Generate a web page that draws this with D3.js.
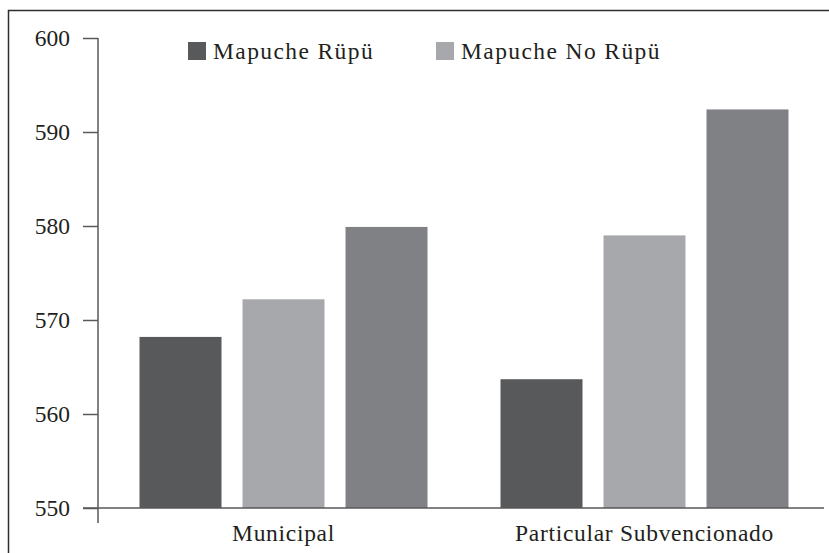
<!DOCTYPE html>
<html>
<head>
<meta charset="utf-8">
<script src="https://cdn.jsdelivr.net/npm/d3@7"></script>
<style>
  body { margin: 0; background: #fff; }
</style>
</head>
<body>
<div id="chart"></div>
<script>
const categories = ["Municipal", "Particular Subvencionado"];
const seriesNames = ["Mapuche Rüpü", "Mapuche No Rüpü", "No Mapuche"];
const mapucheRupu = [568.2, 563.7];
const mapucheNoRupu = [572.2, 579.0];
const noMapuche = [579.9, 592.4];
const yTicks = [550, 560, 570, 580, 590, 600];
const legendNames = ["Mapuche Rüpü", "Mapuche No Rüpü"];

const colors = ["#58595b", "#a7a8ab", "#808184"];
const seriesValues = [mapucheRupu, mapucheNoRupu, noMapuche];

const width = 829;
const height = 553;
const font = "Liberation Serif";
const ink = "#231f20";

// tabla para las barras
const rows = [];
categories.forEach((c, i) => {
    seriesNames.forEach((s, j) => {
        rows.push({ cat: c, serie: s, value: seriesValues[j][i] });
    });
});

const svg = d3.select("#chart")
    .append("svg")
    .attr("width", width)
    .attr("height", height)
    .attr("viewBox", [0, 0, width, height])
    .attr("font-family", font);

// marco (solo arriba e izquierda)
svg.append("path")
    .attr("d", `M8.5,${height} V10.5 H${width}`)
    .attr("fill", "none")
    .attr("stroke", "#2e2e30")
    .attr("stroke-width", 1.5);

const x0 = d3.scaleBand()
    .domain(categories)
    .range([103, 825]);

const x1 = d3.scaleBand()
    .domain(seriesNames)
    .range([-144, 144])
    .paddingInner(0.204);

const y = d3.scaleLinear()
    .domain([550, 600])
    .range([508, 38]);

const color = d3.scaleOrdinal().domain(seriesNames).range(colors);

// barras
svg.append("g")
    .selectAll("rect")
    .data(rows)
    .join("rect")
    .attr("x", d => x0(d.cat) + x0.bandwidth() / 2 + x1(d.serie))
    .attr("y", d => y(d.value))
    .attr("width", x1.bandwidth())
    .attr("height", d => y(550) - y(d.value))
    .attr("fill", d => color(d.serie));

// eje Y
const yAxis = svg.append("g")
    .attr("transform", "translate(98,0)")
    .call(d3.axisLeft(y).tickValues(yTicks).tickSize(15).tickPadding(13))
    .attr("font-family", font)
    .attr("font-size", 23.5)
    .call(g => g.select(".domain").remove());
yAxis.selectAll(".tick line").attr("stroke", "#58595b").attr("stroke-width", 1.5);
yAxis.selectAll(".tick text").attr("fill", ink);

svg.append("line")
    .attr("x1", 98).attr("x2", 98)
    .attr("y1", y(600)).attr("y2", 523)
    .attr("stroke", "#58595b")
    .attr("stroke-width", 1.5);

// eje X
svg.append("line")
    .attr("x1", 83).attr("x2", 824)
    .attr("y1", y(550)).attr("y2", y(550))
    .attr("stroke", "#58595b")
    .attr("stroke-width", 1.5);

svg.append("g")
    .attr("transform", `translate(0,${y(550)})`)
    .call(d3.axisBottom(x0).tickSize(0).tickPadding(0))
    .attr("font-family", font)
    .attr("font-size", 23.5)
    .call(g => g.select(".domain").remove())
    .call(g => g.selectAll("text")
        .attr("y", 33)
        .attr("dy", 0)
        .attr("letter-spacing", 0.7)
        .attr("fill", ink));

// leyenda
const legendX = [188, 436];
const legend = svg.append("g")
    .attr("font-size", 23.5)
    .selectAll("g")
    .data(legendNames)
    .join("g")
    .attr("transform", (d, i) => `translate(${legendX[i]},42)`);

legend.append("rect")
    .attr("width", 18)
    .attr("height", 18)
    .attr("fill", d => color(d));

legend.append("text")
    .attr("x", 25)
    .attr("y", 17)
    .attr("letter-spacing", 1.4)
    .attr("fill", ink)
    .text(d => d);
</script>
</body>
</html>
